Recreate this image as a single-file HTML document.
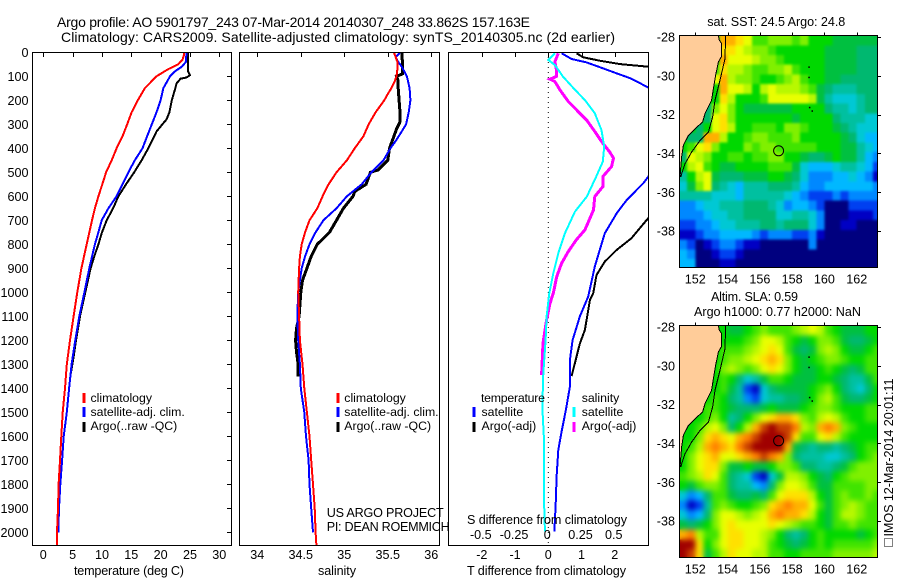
<!DOCTYPE html>
<html>
<head>
<meta charset="utf-8">
<style>
html,body{margin:0;padding:0;background:#fff;}
svg{display:block;}
text{font-family:"Liberation Sans",sans-serif;font-size:12.6px;fill:#000;}
.ttl{font-size:14px;}
.lg{font-size:12.3px;}
</style>
</head>
<body>
<svg id="fig" width="900" height="580" viewBox="0 0 900 580" xmlns="http://www.w3.org/2000/svg">
<defs>
<clipPath id="c1"><rect x="32.5" y="52.5" width="199" height="493"/></clipPath>
<clipPath id="c2"><rect x="239.5" y="52.5" width="200" height="493"/></clipPath>
<clipPath id="c3"><rect x="448.5" y="52.5" width="200" height="493"/></clipPath>
<clipPath id="m1"><rect x="679.5" y="35.5" width="198" height="232"/></clipPath>
<clipPath id="m2"><rect x="679.5" y="325.5" width="198" height="232"/></clipPath>
<filter id="soft1" filterUnits="userSpaceOnUse" x="660" y="20" width="240" height="260" color-interpolation-filters="sRGB"><feGaussianBlur in="SourceGraphic" stdDeviation="1.3" result="b"/><feMerge><feMergeNode in="SourceGraphic"/><feMergeNode in="b"/></feMerge></filter>
<filter id="soft2" filterUnits="userSpaceOnUse" x="660" y="310" width="240" height="260" color-interpolation-filters="sRGB"><feGaussianBlur in="SourceGraphic" stdDeviation="2.6" result="b"/><feMerge><feMergeNode in="SourceGraphic"/><feMergeNode in="b"/></feMerge></filter>
</defs>
<g id="layer"></g>
<text class="ttl" x="57" y="27" textLength="473">Argo profile: AO 5901797_243 07-Mar-2014 20140307_248 33.862S 157.163E</text>
<text class="ttl" x="61" y="42" textLength="554">Climatology: CARS2009. Satellite-adjusted climatology: synTS_20140305.nc (2d earlier)</text>
<text x="74" y="575" textLength="110">temperature (deg C)</text>
<text x="318" y="575" textLength="38">salinity</text>
<text x="467" y="575" textLength="159">T difference from climatology</text>
<text x="467" y="524" textLength="160">S difference from climatology</text>
<text class="lg" x="90.5" y="402">climatology</text>
<text class="lg" x="90.5" y="416">satellite-adj. clim.</text>
<text class="lg" x="90.5" y="430">Argo(..raw -QC)</text>
<text class="lg" x="344.3" y="402">climatology</text>
<text class="lg" x="344.3" y="416">satellite-adj. clim.</text>
<text class="lg" x="344.3" y="430">Argo(..raw -QC)</text>
<text class="lg" x="481" y="402" textLength="64">temperature</text>
<text class="lg" x="481.5" y="416">satellite</text>
<text class="lg" x="481.5" y="430">Argo(-adj)</text>
<text class="lg" x="581.7" y="402">salinity</text>
<text class="lg" x="581.7" y="416">satellite</text>
<text class="lg" x="581.7" y="430">Argo(-adj)</text>
<text x="326.7" y="517" textLength="117">US ARGO PROJECT</text>
<text x="326.7" y="531" textLength="123">PI: DEAN ROEMMICH</text>
<text x="707.3" y="26" textLength="138">sat. SST: 24.5 Argo: 24.8</text>
<text x="711" y="301" textLength="87">Altim. SLA: 0.59</text>
<text x="694" y="316" textLength="167">Argo h1000: 0.77 h2000: NaN</text>
<rect x="884.5" y="538.5" width="8" height="8" fill="none" stroke="#000" stroke-width="1" stroke-dasharray="1 1"/>
<text transform="translate(893,536.5) rotate(-90)" textLength="158">IMOS 12-Mar-2014 20:01:11</text>
</svg>
<script>
// ----- Temperature panel data (deg C at depth, dbar)
var climTDepth=[0,10,30,50,70,100,120,150,200,250,300,350,400,450,500,550,600,650,700,800,900,1000,1100,1200,1300,1400,1500,1600,1700,1800,1900,2000,2060];
var climT=[24,24,23.75,23,21.3,19.3,18.5,17.3,16.1,15.05,14.3,13.5,12.5,11.65,10.7,10.05,9.4,8.8,8.3,7.4,6.5,5.8,5.17,4.55,4,3.7,3.3,3.07,2.84,2.6,2.5,2.33,2.3];
var satTDepth=[0,40,60,80,100,150,200,250,300,350,400,450,500,550,600,650,700,750,800,900,1000,1100,1200,1300,1400,1500,1600,1700,1800,1900,2000];
var satT=[24.4,24.3,23.6,22.4,21.6,20.45,20,19.3,18.5,17.7,16.9,15.6,14.5,13.5,12.5,11.1,9.95,9.4,8.8,7.84,7,6.14,5.45,4.83,4.4,4,3.47,3.2,2.9,2.67,2.55];
var argoTDepth=[0,80,95,105,110,130,150,200,250,280,300,330,400,450,500,550,600,650,700,750,800,850,900,1000,1100,1200,1280,1350];
var argoT=[24.66,24.66,25,24.4,23.4,22.7,22.5,21.9,21.5,21,20.3,19.3,17.9,16.76,15.5,14.1,12.8,11.9,10.8,10,9.4,8.7,8.07,7.16,6.25,5.57,5.1,4.6];
// ----- Salinity panel data
var climSDepth=[0,10,40,70,100,120,150,180,200,250,300,350,400,450,500,550,600,650,700,750,800,850,900,1000,1100,1200,1300,1400,1500,1600,1700,1800,1900,2000,2060];
var climS=[35.57,35.58,35.61,35.61,35.6,35.58,35.54,35.49,35.46,35.36,35.28,35.22,35.12,35.03,34.91,34.82,34.75,34.69,34.6,34.55,34.51,34.49,34.48,34.47,34.48,34.49,34.52,34.54,34.57,34.6,34.62,34.64,34.66,34.67,34.68];
var satSDepth=[0,10,20,40,60,100,150,200,250,300,330,370,400,450,500,550,600,650,700,750,800,850,900,950,1000,1100,1200,1300,1400,1500,1600,1700,1800,1900,2000];
var satS=[35.64,35.62,35.59,35.62,35.66,35.72,35.75,35.76,35.74,35.71,35.66,35.59,35.53,35.45,35.31,35.2,35.03,34.91,34.76,34.67,34.6,34.55,34.51,34.49,34.47,34.46,34.47,34.49,34.5,34.54,34.56,34.59,34.6,34.62,34.64];
var argoSDepth=[0,50,90,100,120,150,200,250,290,320,350,400,450,490,500,550,580,600,650,700,750,800,850,900,950,1000,1100,1150,1200,1250,1300,1350];
var argoS=[35.66,35.67,35.67,35.6,35.62,35.62,35.63,35.64,35.64,35.6,35.57,35.52,35.5,35.39,35.3,35.25,35.12,35.1,34.99,34.91,34.83,34.69,34.62,34.57,34.52,34.5,34.48,34.45,34.44,34.45,34.47,34.47];
// ----- Difference panel data
var dTSatDepth=[4,28,42,67,83,108,146,300,545,615,670,754,823,893,1018,1100,1199,1282,1393,1490,1580,1657,1768,1893,1997];
var dTSat=[0.4,0.7,1.15,1.65,1.96,2.46,3,4.2,2.86,2.36,2.06,1.7,1.55,1.4,1.2,0.95,0.73,0.65,0.65,0.53,0.4,0.3,0.25,0.22,0.18];
var dTArgoDepth=[4,21,35,49,60,300,692,775,823,872,928,1004,1032,1157,1213,1349];
var dTArgo=[0.85,1.05,1.55,2.16,3,6,3,2.5,2.06,1.7,1.45,1.35,1.25,1.1,0.95,0.7];
var dSSatDepth=[4,32,53,101,150,199,254,324,393,456,518,601,664,754,837,921,1004,1101,1199,1338,1476,1615,1782,1921,1997];
var dSSat=[0.05,0,0.05,0.11,0.19,0.275,0.35,0.4,0.42,0.41,0.36,0.29,0.2,0.125,0.075,0.0375,0.0075,-0.0125,-0.02,-0.0375,-0.045,-0.0325,-0.0325,-0.03,-0.025];
var dSArgoDepth=[4,39,80,100,112,122,157,205,247,282,330,379,414,441,476,518,560,601,657,740,782,830,879,935,1004,1046,1115,1212,1344];
var dSArgo=[0.075,0.05,0.063,0.063,0.0125,0.05,0.088,0.15,0.225,0.288,0.35,0.41,0.46,0.49,0.476,0.41,0.41,0.35,0.34,0.275,0.21,0.15,0.1,0.063,0.0375,0.0125,-0.0125,-0.04,-0.05];
// ----- Tick labels
var depthTicks=[0,100,200,300,400,500,600,700,800,900,1000,1100,1200,1300,1400,1500,1600,1700,1800,1900,2000];
var tempTicks=[0,5,10,15,20,25,30];
var salTicks=[34,34.5,35,35.5,36];
var dTTicks=[-2,-1,0,1,2];
var dSTicks=[-0.5,-0.25,0,0.25,0.5];
var lonTicks=[152,154,156,158,160,162];
var latTicks=[-28,-30,-32,-34,-36,-38];
// ----- Map data: one letter per 0.5 degree cell, rows north to south, a = lowest level
var levelNames="abcdefghijklmnopqrs";
var sstRows=[
"jjjjjpponkklllkljjjiiiiii",
"jjjjjoonmllkjjjjjjiiiihhh",
"jjjjjpnnnmllkjjjjjiiiihhh",
"jjjjkommlkkllmkjjjiiiihhh",
"jjjjnpmllkjjklmkjjiihhhhh",
"jjjjjpnnmjmnmmmlkihggghhh",
"jjjjjomjjjknnnnnmigfffghh",
"jjjhlnljiiiiiijjjjhggfghh",
"jjjhnoljjjjjjjijjjjhgggff",
"jjhjnomjjkkkjllkjjjihgfff",
"jhhppmjjkllkkkljjjjjihfee",
"jknoljjjlkllkkkkkjjjiigfe",
"hnmljjkkjkklljjihhijiiged",
"jmnkjiijjjjkkkifeeefggfec",
"gjmnihhhiiijjihfdddeefedb",
"filnhgfeggghhhgeddeeeeeed",
"ggggfffegggggfedcccdcdddd",
"ddeffggghhhgfdeedcaaacccc",
"dddeffgghhhhffggfdaaabbbc",
"ccddeffggghhghhhfdaabbaaa",
"bbcddeeeedcdddccdbaaaaaaa",
"dcabcddcbbaaaaaadaaaaaaaa",
"edaabccbaaaaaaaaaaaaaaaaa",
"eeaaabbaaaaaaaaaaaaaaaaaa"
];
var slaRows=[
"jjjjjjiijklkkklmnmkjiiijj",
"jjjjjjjjklnnmkjijllkihhij",
"jjjjjkkklmnonkihilmljiijk",
"jjjjjkllmnopoljijkllkjjkk",
"jjjjjlmlklnonljiijkjihikk",
"jjjjjkjhfgikkjiiijjihggik",
"jjjjjkigcbfhiiiijkljhgfhj",
"jjjjkjhgdcfgghhijlmkihhij",
"jjjkkjihhhijiiijkllkjjjkk",
"jjjkljghjlnoppolkmnmkjjkk",
"jjkmnlhjmprsrrqmlpqplkjjj",
"jjloponpqrsssrokknomkjjjj",
"jkmpqpoqrsssspihghhghijkk",
"jlnopnnopqrqplhgggffghjkl",
"jlnooliijiijllkhhgghiklll",
"klmonkhgfcbfimmljihjkllll",
"jikllkhggedhlnnmkiikkkkll",
"fdehkkihhihknooomjiklkklk",
"dbcgklkjjklopqppnkiklmlkk",
"fdehlnnmlmnpqppomjikmmlkk",
"ihijlnonnnnonmlkkjikklkkk",
"pqmkknoonnmljhghjkjjjjijk",
"ssojlnoonnmkjihijkjkkkkkl",
"sroikmonnmmkkjjkkkklllllm"
];
var coastLon=[153.43,153.49,153.63,153.61,153.43,153.26,153.12,153.01,152.6,152.45,151.98,151.57,151.26,151.15,151.05];
var coastLat=[-27.93,-28.17,-28.34,-29.03,-29.29,-29.98,-30.66,-31.26,-31.95,-32.38,-32.73,-33.07,-33.58,-34.19,-35.22];
var isobathLon=[153.88,153.84,153.53,153.22,153.07,152.81,152.29,151.77,151.36,151.09];
var isobathLat=[-27.93,-29.12,-30.23,-31.26,-32.12,-32.9,-33.33,-33.93,-34.53,-35.22];
var islandLon=[159.0,159.0,159.04,159.2];
var islandLat=[-29.52,-30.05,-31.6,-31.78];
var profileLon=157.163;
var profileLat=-33.862;

var levelColors=["#00007f","#0000c4","#0040f0","#0088ff","#00b8ff","#00c8d4","#00c0a0","#00b870","#00c040","#00d800","#40e400","#80f000","#b8f800","#e8ff00","#ffe000","#ffb000","#ff8000","#c84000","#a00000"];
var NS="http://www.w3.org/2000/svg";
var layer=document.getElementById("layer");
function xTemp(v){return 43.3+v*5.867;}
function xSal(v){return 257.3+(v-34)*87;}
function xDT(v){return 548.3+v*33.25;}
function xDS(v){return 548.3+v*133;}
function yDepth(d){return 52.3+d*0.24;}
function lonX(v){return 695.3+(v-152)*16.14;}
function latY(v,top){return top+1.4+(-28-v)*19.43;}
function make(tag,attrs,parent){
  var el=document.createElementNS(NS,tag);
  for(var k in attrs){el.setAttribute(k,attrs[k]);}
  (parent||layer).appendChild(el);
  return el;
}
function curve(name,depths,vals,xf,color,w,clip){
  var pts=[];
  for(var i=0;i<vals.length;i++){pts.push(xf(vals[i]).toFixed(1)+","+yDepth(depths[i]).toFixed(1));}
  var el=make("polyline",{points:pts.join(" "),fill:"none",stroke:color,"stroke-width":w,"shape-rendering":"crispEdges","clip-path":"url(#"+clip+")"});
  
  
}
function frame(name,x,y,w,h){
  var el=make("rect",{x:x,y:y,width:w,height:h,fill:"none",stroke:"#000","stroke-width":1,"shape-rendering":"crispEdges"});
  
  
}
function tick(x1,y1,x2,y2){
  var el=make("line",{x1:x1,y1:y1,x2:x2,y2:y2,stroke:"#000","stroke-width":1,"shape-rendering":"crispEdges"});
  
  
}
function label(t,x,y,anchor){
  var el=make("text",{x:x,y:y,"text-anchor":anchor||"middle"});
  
  
  el.textContent=t;
}
function mapPanel(name,rows,top,clip,soft){
  var g=make("g",{"clip-path":"url(#"+clip+")"});
  
  
  var cells=make("g",{filter:"url(#"+soft+")"},g);
  
  
  for(var r=0;r<rows.length;r++){
    for(var c=0;c<rows[r].length;c++){
      var lv=levelNames.indexOf(rows[r].charAt(c));
      var lon=151+0.5*c, lat=-28+0.07-0.5*r;
      var cell=make("rect",{x:lonX(lon).toFixed(2),y:latY(lat,top).toFixed(2),width:8.6,height:10.2,fill:levelColors[lv],"shape-rendering":"crispEdges"},cells);
      
      
    }
  }
  var landPts=[lonX(150)+","+latY(-27,top)];
  for(var i=0;i<coastLon.length;i++){landPts.push(lonX(coastLon[i]).toFixed(1)+","+latY(coastLat[i],top).toFixed(1));}
  landPts.push(lonX(150)+","+latY(-35.22,top));
  var land=make("polygon",{points:landPts.join(" "),fill:"#ffcc99",stroke:"none"},g);
  
  
  var cp=[];
  for(i=0;i<coastLon.length;i++){cp.push(lonX(coastLon[i]).toFixed(1)+","+latY(coastLat[i],top).toFixed(1));}
  var coast=make("polyline",{points:cp.join(" "),fill:"none",stroke:"#000","stroke-width":1,"shape-rendering":"crispEdges"},g);
  
  
  var ip=[];
  for(i=0;i<isobathLon.length;i++){ip.push(lonX(isobathLon[i]).toFixed(1)+","+latY(isobathLat[i],top).toFixed(1));}
  var iso=make("polyline",{points:ip.join(" "),fill:"none",stroke:"#000","stroke-width":1,"shape-rendering":"crispEdges"},g);
  
  
  for(i=0;i<islandLon.length;i++){
    var isl=make("rect",{x:lonX(islandLon[i]).toFixed(1),y:latY(islandLat[i],top).toFixed(1),width:1.5,height:1.5,fill:"#000"},g);
    
    
  }
  var circ=make("circle",{cx:lonX(profileLon).toFixed(1),cy:latY(profileLat,top).toFixed(1),r:5,fill:"none",stroke:"#000","stroke-width":1},g);
  
  
  frame(name+"-frame",679.5,top,198,232);
  lonTicks.forEach(function(v){tick(Math.round(lonX(v))+.5,top-3,Math.round(lonX(v))+.5,top);label(v,lonX(v),top+248);});
  latTicks.forEach(function(v){var yy=latY(v,top);tick(877.5,Math.round(yy)+.5,881,Math.round(yy)+.5);label(v,675,yy+4.5,"end");});
}

// Profile curves
curve("temperature-argo-line",argoTDepth,argoT,xTemp,"#000",2,"c1");
curve("temperature-satellite-line",satTDepth,satT,xTemp,"#0000ff",2,"c1");
curve("temperature-climatology-line",climTDepth,climT,xTemp,"#ff0000",2,"c1");
curve("salinity-argo-line",argoSDepth,argoS,xSal,"#000",3,"c2");
curve("salinity-satellite-line",satSDepth,satS,xSal,"#0000ff",2,"c2");
curve("salinity-climatology-line",climSDepth,climS,xSal,"#ff0000",2,"c2");

// zero line in difference panel
var zero=make("line",{x1:xDT(0),y1:52,x2:xDT(0),y2:545,stroke:"#000","stroke-width":1,"stroke-dasharray":"1 4"});


curve("t-diff-argo-line",dTArgoDepth,dTArgo,xDT,"#000",2,"c3");
curve("t-diff-satellite-line",dTSatDepth,dTSat,xDT,"#0000ff",2,"c3");
curve("s-diff-argo-line",dSArgoDepth,dSArgo,xDS,"#ff00ff",3,"c3");
curve("s-diff-satellite-line",dSSatDepth,dSSat,xDS,"#00ffff",2,"c3");

frame("temperature-panel-frame",32.5,52.5,199,493);
frame("salinity-panel-frame",239.5,52.5,200,493);
frame("difference-panel-frame",448.5,52.5,200,493);

depthTicks.forEach(function(d){
  var yy=Math.round(yDepth(d))+.5;
  tick(227,yy,231.5,yy);
  label(d,28.5,yDepth(d)+4.5,"end");
});
tempTicks.forEach(function(v){var xx=Math.round(xTemp(v))+.5;tick(xx,52.5,xx,57);label(v,xTemp(v),559);});
salTicks.forEach(function(v){var xx=Math.round(xSal(v))+.5;tick(xx,52.5,xx,57);label(v,xSal(v),559);});
dTTicks.forEach(function(v){var xx=Math.round(xDT(v))+.5;tick(xx,52.5,xx,57);label(v,xDT(v),559);});
dSTicks.forEach(function(v){label(v,xDS(v)-1,539);});

// legend dashes
var legendX=[84,84,84,338,338,338,474,474,574,574];
var legendY=[393,407,422,393,407,422,407,422,407,422];
var legendC=["#ff0000","#0000ff","#000","#ff0000","#0000ff","#000","#0000ff","#000","#00ffff","#ff00ff"];
legendX.forEach(function(x,i){
  var el=make("rect",{x:x-1.5,y:legendY[i],width:3,height:10,fill:legendC[i]});
  
  
});

mapPanel("sst-map",sstRows,35.5,"m1","soft1");
mapPanel("sla-map",slaRows,325.5,"m2","soft2");
</script>
</body>
</html>
